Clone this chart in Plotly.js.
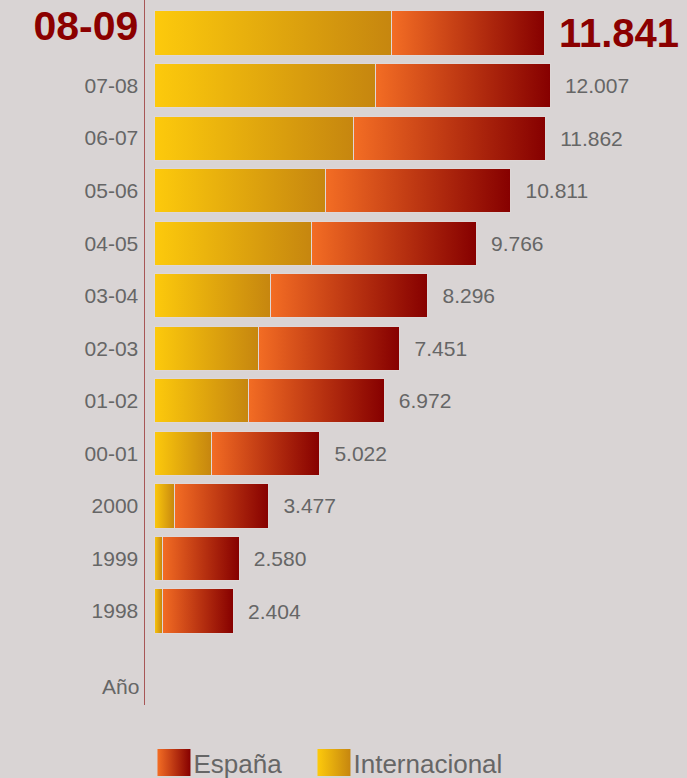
<!DOCTYPE html>
<html>
<head>
<meta charset="utf-8">
<script src="https://cdn.plot.ly/plotly-3.0.1.min.js"></script>
<style>
  html, body { margin: 0; padding: 0; background: #d9d4d4; }
  #chart { width: 687px; height: 778px; }
</style>
</head>
<body>
<div id="chart"></div>
<script>
// Data (values in units; labels use Spanish thousands separator)
const years = ["1998", "1999", "2000", "00-01", "01-02", "02-03", "03-04", "04-05", "05-06", "06-07", "07-08", "08-09"];
const internacional = [246, 246, 630, 1735, 2850, 3160, 3530, 4770, 5200, 6050, 6697, 7205];
const espana = [2158, 2334, 2847, 3287, 4122, 4291, 4766, 4996, 5611, 5812, 5310, 4636];
const totalLabels = ["2.404", "2.580", "3.477", "5.022", "6.972", "7.451", "8.296", "9.766", "10.811", "11.862", "12.007", "11.841"];
const axisTitle = "Año";

const FONT = "Liberation Sans, Arial, Helvetica, sans-serif";
const GRAY = "#666666";
const DARKRED = "#8b0000";
const BG = "#d9d4d4";
const last = years.length - 1;

const tickText = years.map((y, i) => i === last
  ? "<b><span style=\"font-size:41px;color:" + DARKRED + "\">" + y + "</span></b>"
  : y);

const valueText = totalLabels.map((t, i) => i === last ? "&nbsp;<b>" + t + "</b>" : "&nbsp;&nbsp;" + t);
const textSizes = totalLabels.map((t, i) => i === last ? 40 : 21);
const textColors = totalLabels.map((t, i) => i === last ? DARKRED : GRAY);

const traces = [
  {
    type: "bar", orientation: "h", name: "Internacional",
    y: years, x: internacional, width: 0.84,
    marker: { color: "#e3a90c", line: { color: "#ded7d7", width: 1 } },
    legendrank: 2
  },
  {
    type: "bar", orientation: "h", name: "España",
    y: years, x: espana, width: 0.84,
    marker: { color: "#c0391a", line: { color: "#ded7d7", width: 1 } },
    text: valueText, textposition: "outside", cliponaxis: false, constraintext: "none",
    textfont: { family: FONT, size: textSizes, color: textColors },
    legendrank: 1
  }
];

const layout = {
  width: 687, height: 778,
  paper_bgcolor: BG, plot_bgcolor: BG,
  barmode: "stack",
  margin: { l: 145, r: 0, t: 0, b: 73 },
  font: { family: FONT, color: GRAY },
  showlegend: true,
  legend: {
    orientation: "h", traceorder: "normal",
    xref: "container", yref: "container",
    x: 0.2234, xanchor: "left", y: 0, yanchor: "bottom",
    font: { family: FONT, size: 26, color: GRAY },
    itemwidth: 30, entrywidth: 115, entrywidthmode: "pixels",
    bgcolor: "rgba(0,0,0,0)"
  },
  xaxis: {
    range: [-273, 16151], showgrid: false, zeroline: false, showticklabels: false, ticks: "",
    fixedrange: true
  },
  yaxis: {
    type: "category", categoryarray: years, range: [-1.788, 11.628],
    tickmode: "array", tickvals: years, ticktext: tickText,
    tickfont: { family: FONT, size: 21, color: GRAY },
    ticks: "", showgrid: false, zeroline: false,
    showline: true, linecolor: "#a85656", linewidth: 1.5,
    ticklabelstandoff: 1, fixedrange: true
  },
  annotations: [{
    xref: "paper", yref: "y", x: 0, y: -1.43, xanchor: "right", xshift: -4,
    text: axisTitle, showarrow: false, font: { family: FONT, size: 21, color: GRAY }
  }],
  hovermode: false
};

Plotly.newPlot("chart", traces, layout, { displayModeBar: false, staticPlot: true }).then(gd => {
  const svg = gd.querySelector("svg.main-svg");
  const ns = "http://www.w3.org/2000/svg";
  let defs = svg.querySelector("defs");
  if (!defs) { defs = document.createElementNS(ns, "defs"); svg.insertBefore(defs, svg.firstChild); }
  function grad(id, c1, c2) {
    const g = document.createElementNS(ns, "linearGradient");
    g.setAttribute("id", id);
    g.setAttribute("x1", "0"); g.setAttribute("y1", "0");
    g.setAttribute("x2", "1"); g.setAttribute("y2", "0");
    [[0, c1], [1, c2]].forEach(([o, c]) => {
      const s = document.createElementNS(ns, "stop");
      s.setAttribute("offset", o); s.setAttribute("stop-color", c);
      g.appendChild(s);
    });
    defs.appendChild(g);
  }
  grad("gIntl", "#fdca0c", "#c6860f");
  grad("gEsp", "#f36d24", "#860000");
  const fills = ["url(#gIntl)", "url(#gEsp)"];
  gd.querySelectorAll(".barlayer .trace").forEach((t, i) => {
    t.querySelectorAll(".point path").forEach(p => { p.style.fill = fills[i]; });
  });
  gd.querySelectorAll(".legend .scrollbox").forEach(s => s.removeAttribute("clip-path"));
  const leg = gd.querySelector(".legend");
  if (leg) {
    const m = /translate\(\s*([-\d.]+)[ ,]+([-\d.]+)\s*\)/.exec(leg.getAttribute("transform") || "");
    if (m) leg.setAttribute("transform", "translate(" + m[1] + "," + (parseFloat(m[2]) + 8) + ")");
  }
  gd.querySelectorAll(".legend .traces").forEach(item => {
    const name = item.querySelector(".legendtext").textContent;
    const p = item.querySelector(".legendpoints path");
    if (p) {
      p.setAttribute("d", "M-16,-13.5h33v27h-33Z");
      p.style.fill = name === "España" ? "url(#gEsp)" : "url(#gIntl)";
      p.style.stroke = "none";
    }
  });
});
</script>
</body>
</html>
